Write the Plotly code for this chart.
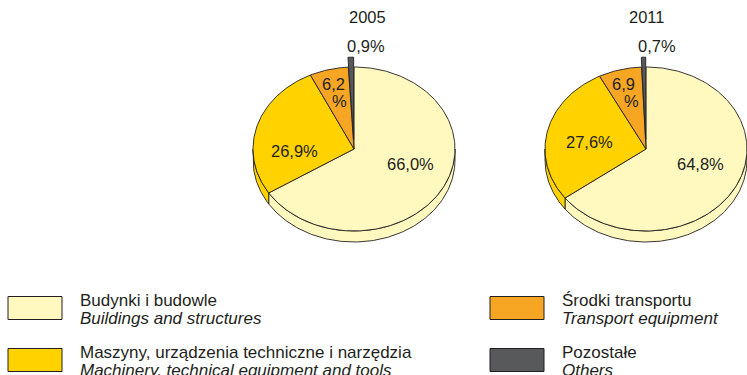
import numpy as np
import plotly.graph_objects as go

# ---- data -------------------------------------------------------------
categories_pl = ["Budynki i budowle",
                 "Maszyny, urządzenia techniczne i narzędzia",
                 "Środki transportu",
                 "Pozostałe"]
categories_en = ["Buildings and structures",
                 "Machinery, technical equipment and tools",
                 "Transport equipment",
                 "Others"]
years = ["2005", "2011"]
shares_2005 = [66.0, 26.9, 6.2, 0.9]
shares_2011 = [64.8, 27.6, 6.9, 0.7]
colors = ["#FFF9BF", "#FFD200", "#F6A623", "#58595B"]

# ---- geometry of the tilted pies (pixel space) -------------------------
W, H = 747, 375
RX, RY, DEPTH = 101, 82, 11
EXPLODE = 0.12          # pull-out of the "Others" slice
pies = [
    dict(year=years[0], values=shares_2005, cx=354, cy=149,
         title=(367, 17),
         labels=[(410, 164), (294, 151), (333, 84), (366, 46)],
         pct_line=(339, 101)),
    dict(year=years[1], values=shares_2011, cx=646, cy=149,
         title=(646, 17),
         labels=[(700, 164), (589, 142), (623, 84), (657, 46)],
         pct_line=(631, 101)),
]

INK = "#231F20"
FONT = "Liberation Sans, Arial, sans-serif"
EDGE = dict(color=INK, width=0.9)


def rim(cx, cy, a0, a1):
    """Points on the top rim between angles a0..a1 (deg, clockwise from 12 o'clock)."""
    t = np.radians(np.linspace(a0, a1, max(int(abs(a1 - a0)) + 2, 3)))
    return cx + RX * np.sin(t), cy - RY * np.cos(t)


def fmt(v):
    return f"{v:.1f}".replace(".", ",")


fig = go.Figure()
annotations = []

for pie in pies:
    vals = np.array(pie["values"], dtype=float)
    ang = np.concatenate([[0.0], np.cumsum(vals) / vals.sum() * 360.0])
    cx, cy = pie["cx"], pie["cy"]

    # offsets (only the last slice is pulled out)
    offs = []
    for i in range(len(vals)):
        if i == len(vals) - 1:
            mid = np.radians((ang[i] + ang[i + 1]) / 2)
            offs.append((RX * EXPLODE * np.sin(mid), -RY * EXPLODE * np.cos(mid)))
        else:
            offs.append((0.0, 0.0))

    # side walls of the front half
    for i in range(len(vals)):
        a, b = max(ang[i], 90.0), min(ang[i + 1], 270.0)
        if b <= a:
            continue
        dx, dy = offs[i]
        x, y = rim(cx + dx, cy + dy, a, b)
        xs = np.concatenate([x, x[::-1], [x[0]]])
        ys = np.concatenate([y, (y + DEPTH)[::-1], [y[0]]])
        fig.add_trace(go.Scatter(x=xs, y=ys, mode="lines", fill="toself",
                                 fillcolor=colors[i], line=EDGE,
                                 hoverinfo="skip", showlegend=False))

    # top faces
    for i in range(len(vals)):
        dx, dy = offs[i]
        x, y = rim(cx + dx, cy + dy, ang[i], ang[i + 1])
        xs = np.concatenate([[cx + dx], x, [cx + dx]])
        ys = np.concatenate([[cy + dy], y, [cy + dy]])
        fig.add_trace(go.Scatter(x=xs, y=ys, mode="lines", fill="toself",
                                 fillcolor=colors[i], line=EDGE,
                                 name=categories_pl[i],
                                 hovertemplate=f"{categories_pl[i]}: {fmt(vals[i])}%<extra></extra>",
                                 showlegend=False))

    # year title
    annotations.append(dict(x=pie["title"][0], y=pie["title"][1], text=pie["year"],
                            showarrow=False, xanchor="center", yanchor="middle",
                            font=dict(family=FONT, size=16.5, color=INK)))
    # value labels (the narrow transport slice gets its "%" on a second line)
    for i, v in enumerate(vals):
        lx, ly = pie["labels"][i]
        if i == 2:
            text = fmt(v)
            annotations.append(dict(x=pie["pct_line"][0], y=pie["pct_line"][1], text="%",
                                    showarrow=False, xanchor="center", yanchor="middle",
                                    font=dict(family=FONT, size=16.5, color=INK)))
        else:
            text = fmt(v) + "%"
        annotations.append(dict(x=lx, y=ly, text=text, showarrow=False,
                                xanchor="center", yanchor="middle",
                                font=dict(family=FONT, size=16.5, color=INK)))

# ---- legend ------------------------------------------------------------
legend_slots = [(8, 78, 308), (8, 78, 360), (490, 560, 308), (490, 560, 360)]
shapes = []
for i, (bx, tx, yc) in enumerate(legend_slots):
    shapes.append(dict(type="rect", x0=bx, x1=bx + 54, y0=yc - 11.5, y1=yc + 11.5,
                       fillcolor=colors[i], line=dict(color=INK, width=1), layer="above"))
    annotations.append(dict(x=tx, y=yc - 8, text=categories_pl[i], showarrow=False,
                            xanchor="left", yanchor="middle",
                            font=dict(family=FONT, size=17, color=INK)))
    annotations.append(dict(x=tx, y=yc + 10, text=f"<i>{categories_en[i]}</i>",
                            showarrow=False, xanchor="left", yanchor="middle",
                            font=dict(family=FONT, size=17, color=INK)))

fig.update_layout(
    width=W, height=H,
    margin=dict(l=0, r=0, t=0, b=0),
    paper_bgcolor="white", plot_bgcolor="white",
    xaxis=dict(range=[0, W], visible=False, fixedrange=True),
    yaxis=dict(range=[H, 0], visible=False, fixedrange=True),
    shapes=shapes,
    annotations=annotations,
)

fig.write_html("out.html")
